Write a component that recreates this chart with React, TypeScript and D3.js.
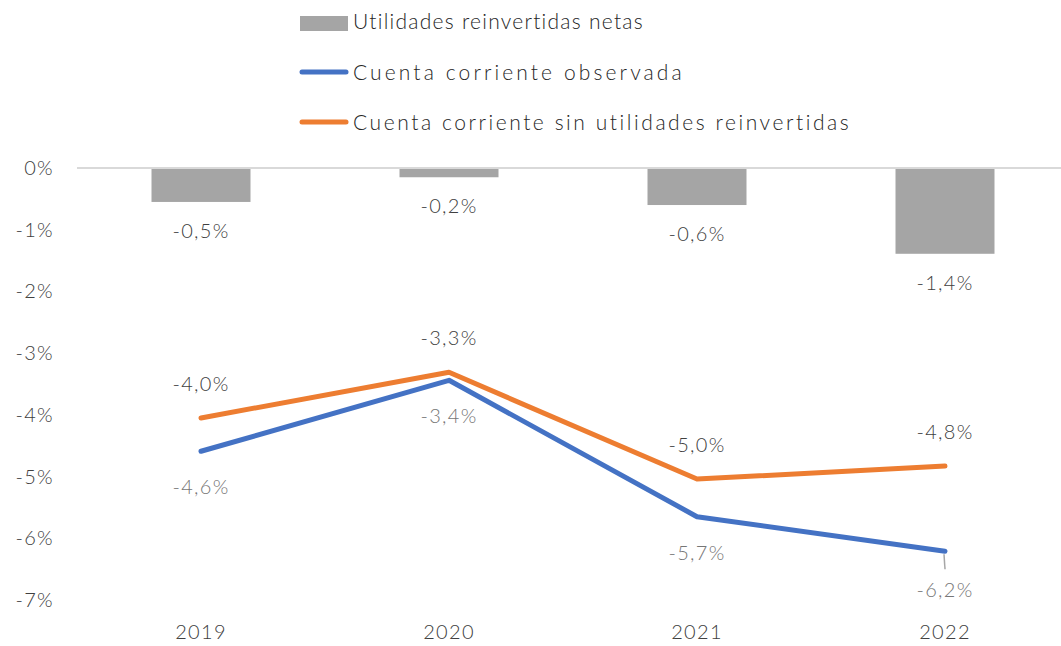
import React from "react";
import * as d3 from "d3";

const years = ["2019", "2020", "2021", "2022"];
const utilidades = [-0.55, -0.15, -0.6, -1.39];
const utilidadesLabels = ["-0,5%", "-0,2%", "-0,6%", "-1,4%"];
const observada = [-4.59, -3.44, -5.65, -6.21];
const observadaLabels = ["-4,6%", "-3,4%", "-5,7%", "-6,2%"];
const sinUtilidades = [-4.05, -3.31, -5.04, -4.83];
const sinUtilidadesLabels = ["-4,0%", "-3,3%", "-5,0%", "-4,8%"];
const yTicks = [0, -1, -2, -3, -4, -5, -6, -7];
const legendNames = [
  "Utilidades reinvertidas netas",
  "Cuenta corriente observada",
  "Cuenta corriente sin utilidades reinvertidas",
];
const legendWidths = [291, 330, 497];

const W = 1061;
const H = 646;
const FONT = "Lato, 'Open Sans', sans-serif";
const BLUE = "#4472c4";
const ORANGE = "#ed7d31";
const GREY = "#a5a5a5";
const LS = 1.3;

export default function App() {
  const x = d3.scaleBand<string>().domain(years).range([77, 1069]).paddingInner(0.6).paddingOuter(0.3);
  const y = d3.scaleLinear().domain([0, -7]).range([168, 600]);
  const cx = (d: string) => (x(d) as number) + x.bandwidth() / 2;
  const barW = 99;

  const line = d3
    .line<number>()
    .x((_, i) => cx(years[i]))
    .y((v) => y(v));

  return (
    <svg
      width={W}
      height={H}
      style={{ position: "absolute", left: 0, top: 0, background: "#fff" }}
      fontFamily={FONT}
      fontWeight={300}
      letterSpacing={LS}
    >
      {/* legend */}
      <rect x={300} y={16} width={48} height={15} fill={GREY} />
      <line x1={302} x2={346} y1={72} y2={72} stroke={BLUE} strokeWidth={5} strokeLinecap="round" />
      <line x1={302} x2={346} y1={122} y2={122} stroke={ORANGE} strokeWidth={5} strokeLinecap="round" />
      {legendNames.map((n, i) => (
        <text key={n} x={353} y={29 + i * 50.5} fontSize={21} fill="#262626" textLength={legendWidths[i]} lengthAdjust="spacing">
          {n}
        </text>
      ))}

      {/* gridline at 0 */}
      <line x1={77} x2={W} y1={y(0)} y2={y(0)} stroke="#d9d9d9" strokeWidth={2} />

      {/* y axis labels */}
      {yTicks.map((t) => (
        <text key={t} x={54} y={y(t)} dy="0.35em" textAnchor="end" fontSize={20} fill="#404040">
          {t === 0 ? "0%" : `${t}%`}
        </text>
      ))}

      {/* x axis labels */}
      {years.map((yr) => (
        <text key={yr} x={cx(yr)} y={639} textAnchor="middle" fontSize={20} fill="#404040">
          {yr}
        </text>
      ))}

      {/* bars */}
      {utilidades.map((v, i) => (
        <g key={i}>
          <rect x={cx(years[i]) - barW / 2} y={y(0) + 1} width={barW} height={y(v) - y(0) - 1} fill={GREY} />
          <text x={cx(years[i])} y={y(v) + 36} textAnchor="middle" fontSize={20} fill="#404040">
            {utilidadesLabels[i]}
          </text>
        </g>
      ))}

      {/* lines */}
      <path d={line(observada) || ""} fill="none" stroke={BLUE} strokeWidth={5} strokeLinecap="round" strokeLinejoin="round" />
      <path d={line(sinUtilidades) || ""} fill="none" stroke={ORANGE} strokeWidth={5} strokeLinecap="round" strokeLinejoin="round" />

      {/* leader line for last blue label */}
      <line x1={cx(years[3]) - 1} y1={y(observada[3]) + 3} x2={cx(years[3])} y2={y(observada[3]) + 18} stroke="#a6a6a6" strokeWidth={1.5} />

      {/* orange labels */}
      {sinUtilidades.map((v, i) => (
        <text key={i} x={cx(years[i])} y={y(v) - 27} textAnchor="middle" fontSize={20} fill="#404040">
          {sinUtilidadesLabels[i]}
        </text>
      ))}

      {/* blue labels */}
      {observada.map((v, i) => (
        <text key={i} x={cx(years[i])} y={y(v) + (i === 3 ? 46 : 43)} textAnchor="middle" fontSize={20} fill="#767676">
          {observadaLabels[i]}
        </text>
      ))}
    </svg>
  );
}
